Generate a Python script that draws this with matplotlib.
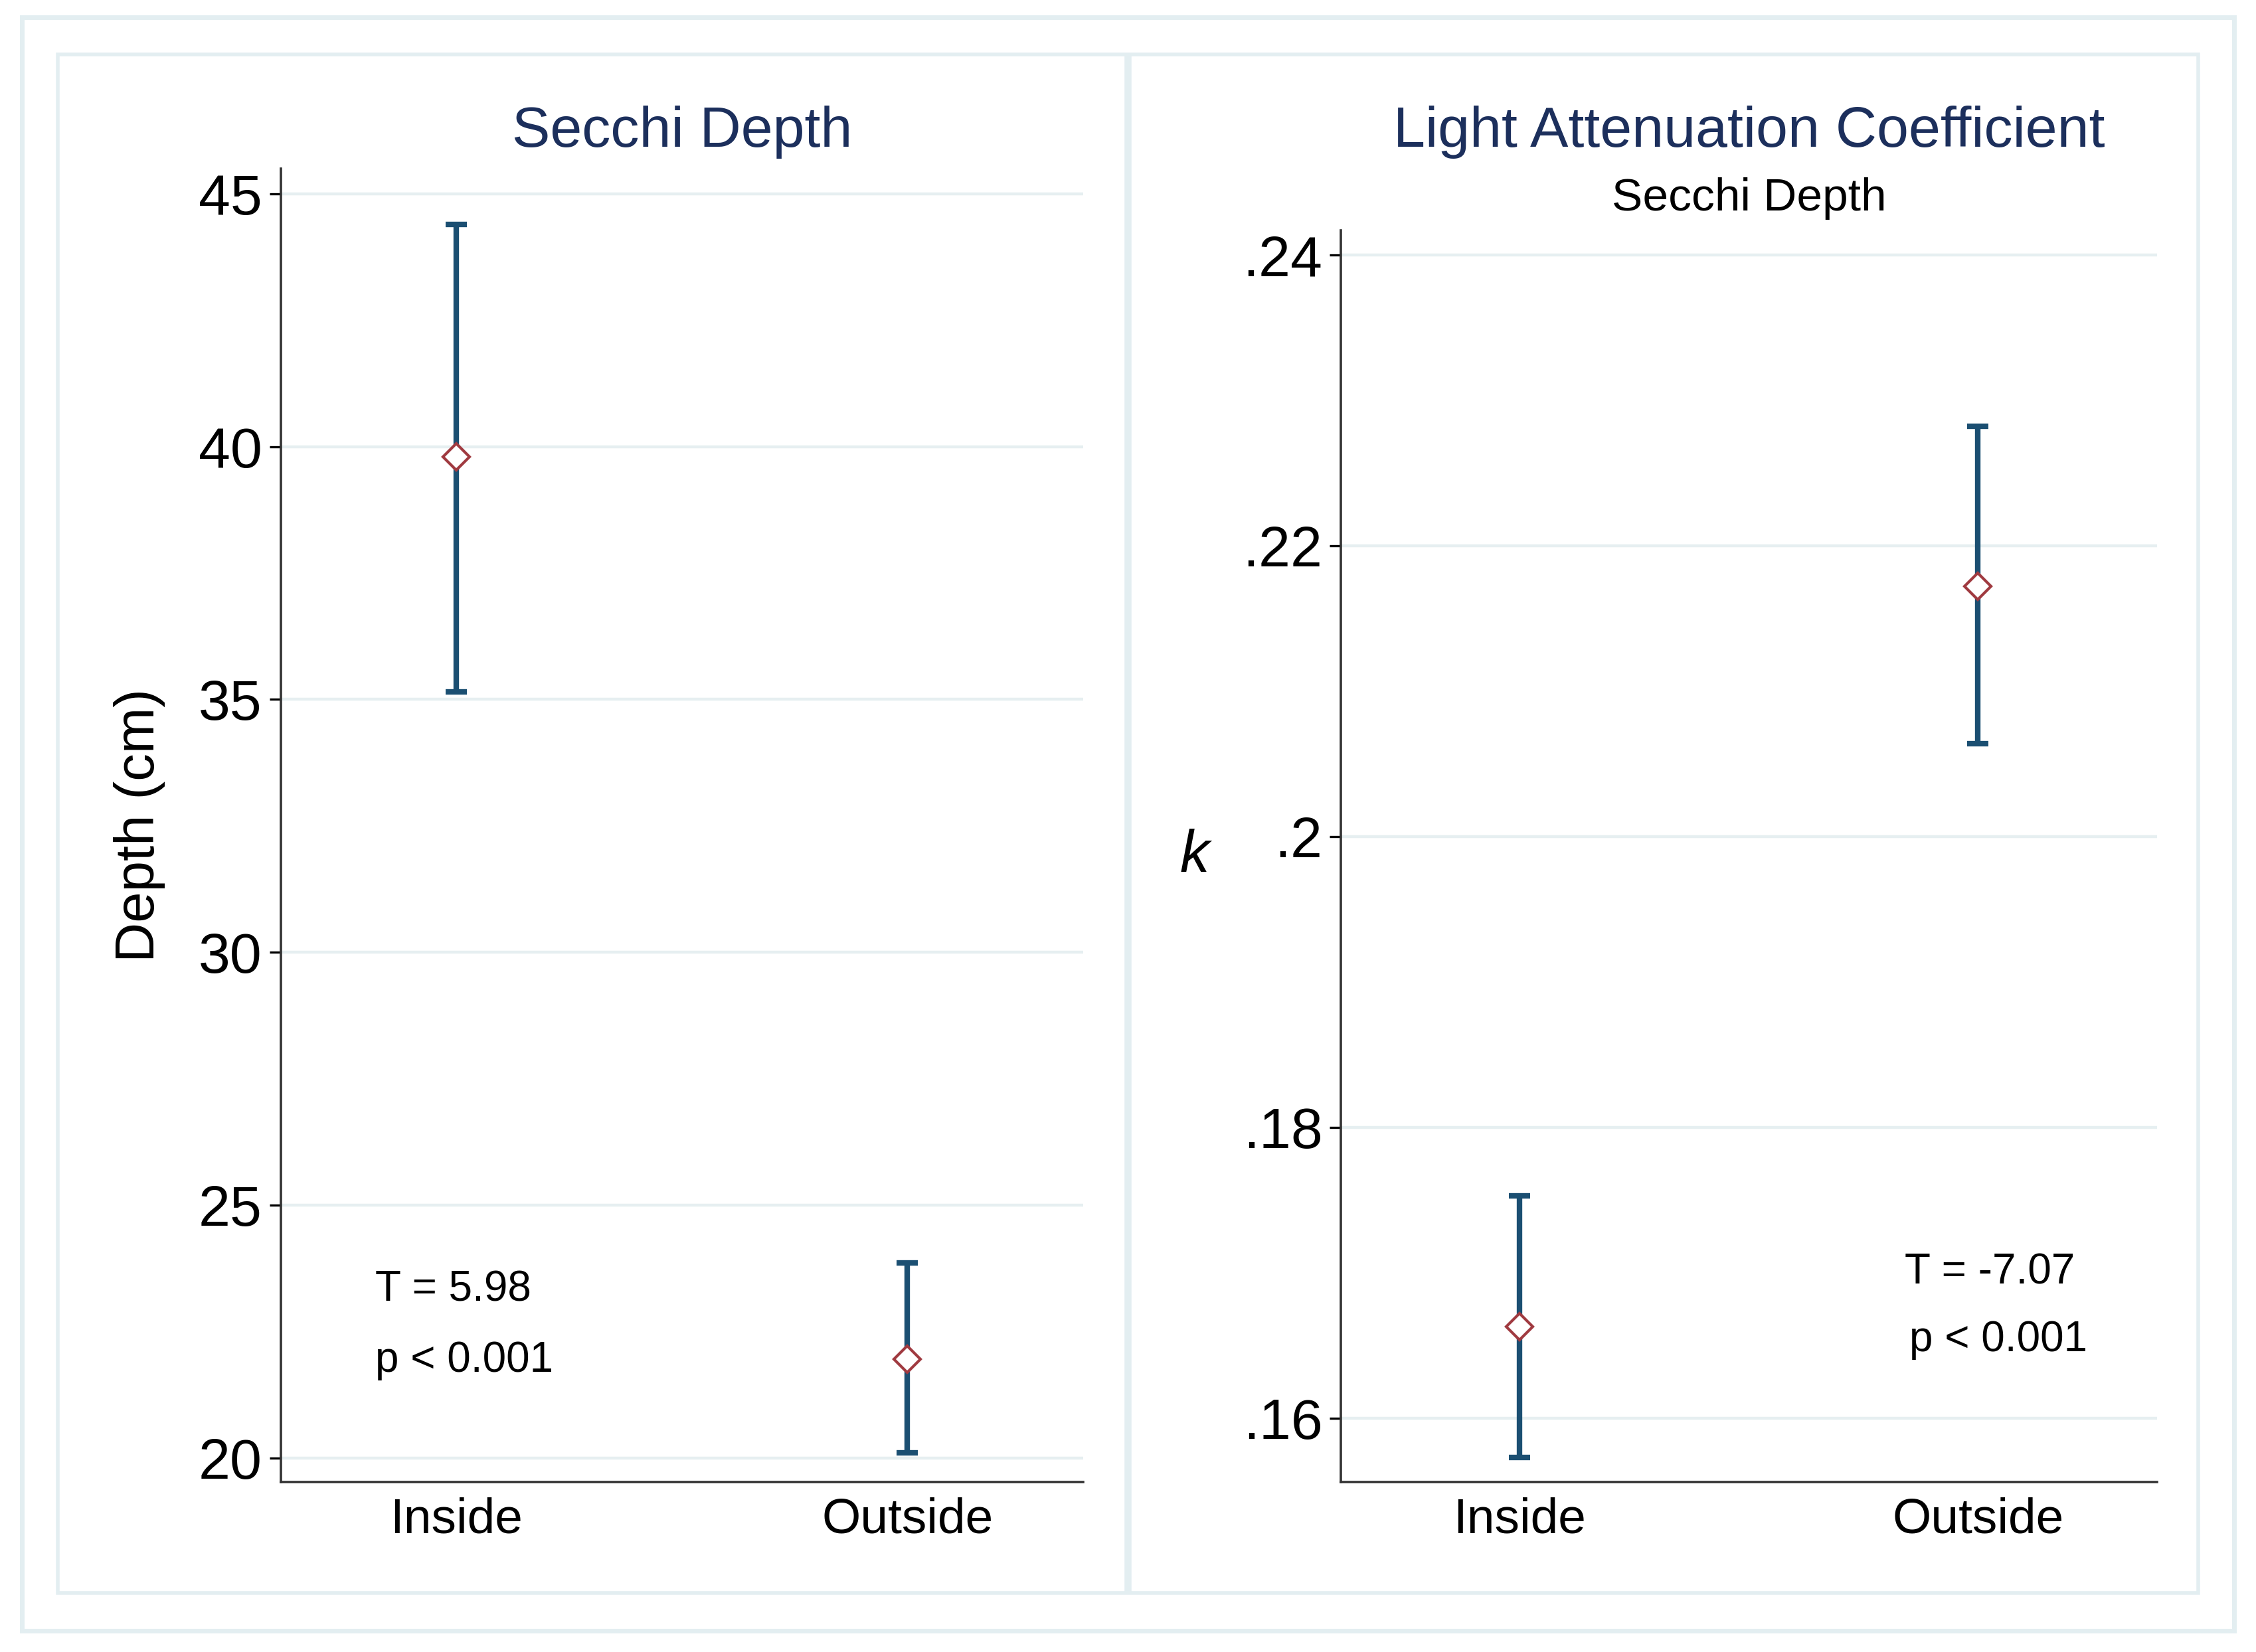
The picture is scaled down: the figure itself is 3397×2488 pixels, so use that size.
from matplotlib import pyplot as plt
from matplotlib.patches import Rectangle

# data
groups = ['Inside', 'Outside']
secchi_mean = [39.8, 21.95]
secchi_lo = [35.15, 20.1]
secchi_hi = [44.4, 23.85]

k_mean = [0.1663, 0.2172]
k_lo = [0.1573, 0.2064]
k_hi = [0.1753, 0.2282]

secchi_ticks = [20, 25, 30, 35, 40, 45]
k_ticks = [0.16, 0.18, 0.20, 0.22, 0.24]
k_ticklabels = ['.16', '.18', '.2', '.22', '.24']

bar_col = '#1b4f72'
mark_col = '#a03a40'
title_col = '#1c2f5c'
grid_col = '#e6eff1'
frame_col = '#e3eef1'

plt.rcParams['font.family'] = ['Liberation Sans Narrow', 'Liberation Sans', 'DejaVu Sans']

fig = plt.figure(figsize=(16.985, 12.44), dpi=200)

# outer frame and the two panel boxes
fig.patches.append(Rectangle((0.0096, 0.013), 0.9808, 0.9765, transform=fig.transFigure,
                             fill=False, edgecolor=frame_col, lw=2.5))
for x0 in [0.0255, 0.5006]:
    fig.patches.append(Rectangle((x0, 0.0357), 0.4739, 0.9313, transform=fig.transFigure,
                                 fill=False, edgecolor=frame_col, lw=2.0))

ax1 = fig.add_axes([0.1244, 0.1028, 0.3558, 0.7952])
ax2 = fig.add_axes([0.5944, 0.1028, 0.3616, 0.7578])


def draw(ax, mean, lo, hi):
    xs = [1, 2]
    err = [[m - l for m, l in zip(mean, lo)], [h - m for m, h in zip(mean, hi)]]
    ax.errorbar(xs, mean, yerr=err, fmt='none', ecolor=bar_col, elinewidth=3,
                capsize=5.6, capthick=3, zorder=3)
    ax.plot(xs, mean, 'D', ms=10, mfc='white', mec=mark_col, mew=1.5, zorder=4)
    ax.set_xlim(0.61, 2.39)
    ax.set_xticks(xs)
    ax.set_xticklabels(groups, fontsize=27)
    ax.tick_params(axis='x', length=0, pad=8)
    ax.tick_params(axis='y', length=6, width=1.2, labelsize=31, pad=4)
    ax.grid(axis='y', color=grid_col, lw=1.6)
    ax.set_axisbelow(True)
    for s in ['top', 'right']:
        ax.spines[s].set_visible(False)
    for s in ['left', 'bottom']:
        ax.spines[s].set_linewidth(1.3)
        ax.spines[s].set_color('#333333')


draw(ax1, secchi_mean, secchi_lo, secchi_hi)
ax1.set_ylim(19.52, 45.5)
ax1.set_yticks(secchi_ticks)
ax1.set_ylabel('Depth (cm)', fontsize=30, labelpad=18)
ax1.text(0.82, 23.32, 'T = 5.98', fontsize=23, va='center')
ax1.text(0.82, 21.92, 'p < 0.001', fontsize=23, va='center')

draw(ax2, k_mean, k_lo, k_hi)
ax2.set_ylim(0.1556, 0.2417)
ax2.set_yticks(k_ticks)
ax2.set_yticklabels(k_ticklabels)
ax2.set_ylabel('k', fontsize=32, style='italic', rotation=0, labelpad=26, va='center')
ax2.text(1.84, 0.1700, 'T = -7.07', fontsize=23, va='center')
ax2.text(1.85, 0.1654, 'p < 0.001', fontsize=23, va='center')

fig.text(0.3023, 0.9200, 'Secchi Depth', fontsize=31, color=title_col, ha='center', va='center')
fig.text(0.7752, 0.9200, 'Light Attenuation Coefficient', fontsize=31, color=title_col,
         ha='center', va='center')
fig.text(0.7752, 0.8800, 'Secchi Depth', fontsize=25, color='black', ha='center', va='center')

fig.savefig('out.png', dpi=200)
